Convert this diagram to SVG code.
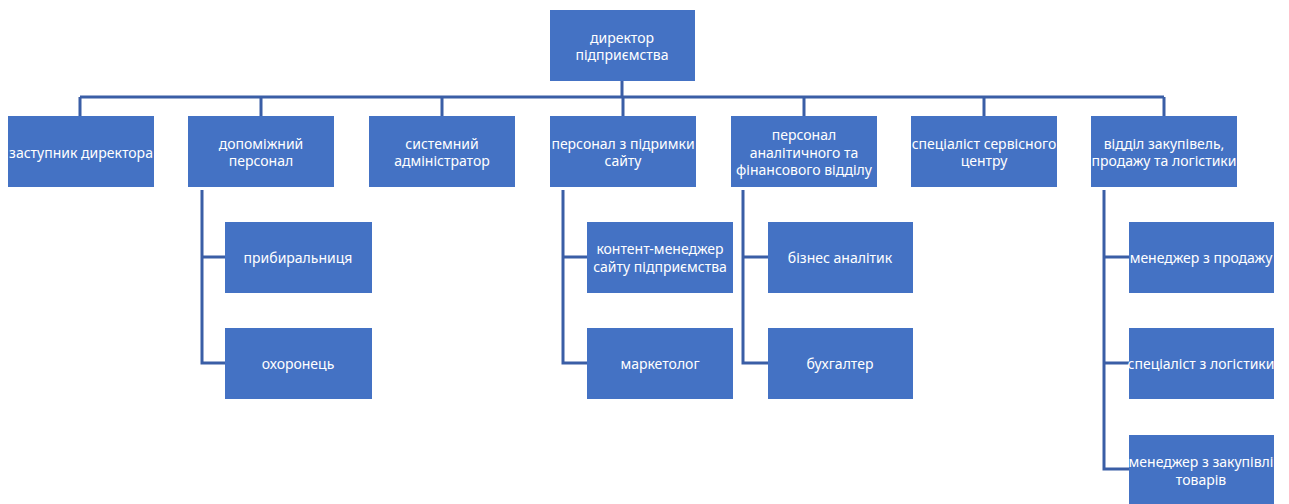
<svg xmlns="http://www.w3.org/2000/svg" width="1289" height="504" viewBox="0 0 1289 504">
<style>
.b{fill:#4472C4}
.t{fill:#fff;font-family:"Noto Sans","Liberation Sans",sans-serif;font-size:14px;text-anchor:middle;dominant-baseline:central}
.c{stroke:#3A5EA6;stroke-width:3;fill:none}
</style>
<rect width="1289" height="504" fill="#fff"/>
<g id="connectors">
<path class="c" d="M622 81V97M80 97H1164M80 97V116M261 97V116M442 97V116M623 97V116M804 97V116M984 97V116M1164 97V116"/>
<path class="c" d="M202 190V363H225M202 257H225"/>
<path class="c" d="M563 190V363H587M563 257H587"/>
<path class="c" d="M743 190V363H768M743 257H768"/>
<path class="c" d="M1104 190V469H1129M1104 257H1129M1104 363H1129"/>
</g>
<g id="director"><rect class="b" x="550" y="10" width="145" height="71"/><text class="t" x="622" y="37">директор</text><text class="t" x="622" y="54">підприємства</text></g>
<g id="deputy"><rect class="b" x="8" y="116" width="146" height="71"/><text class="t" x="81" y="152">заступник директора</text></g>
<g id="support"><rect class="b" x="188" y="116" width="146" height="71"/><text class="t" x="261" y="143">допоміжний</text><text class="t" x="261" y="160">персонал</text></g>
<g id="sysadmin"><rect class="b" x="369" y="116" width="146" height="71"/><text class="t" x="442" y="143">системний</text><text class="t" x="442" y="160">адміністратор</text></g>
<g id="site"><rect class="b" x="550" y="116" width="146" height="71"/><text class="t" x="623" y="143">персонал з підримки</text><text class="t" x="623" y="160">сайту</text></g>
<g id="analytics"><rect class="b" x="731" y="116" width="146" height="71"/><text class="t" x="804" y="134">персонал</text><text class="t" x="804" y="152">аналітичного та</text><text class="t" x="804" y="169">фінансового відділу</text></g>
<g id="service"><rect class="b" x="911" y="116" width="146" height="71"/><text class="t" x="984" y="143">спеціаліст сервісного</text><text class="t" x="984" y="160">центру</text></g>
<g id="purchase"><rect class="b" x="1091" y="116" width="146" height="71"/><text class="t" x="1164" y="143">відділ закупівель,</text><text class="t" x="1164" y="160">продажу та логістики</text></g>
<g id="cleaner"><rect class="b" x="225" y="222" width="147" height="71"/><text class="t" x="298" y="257">прибиральниця</text></g>
<g id="guard"><rect class="b" x="225" y="328" width="147" height="71"/><text class="t" x="298" y="363">охоронець</text></g>
<g id="content"><rect class="b" x="587" y="222" width="146" height="71"/><text class="t" x="660" y="248">контент-менеджер</text><text class="t" x="660" y="266">сайту підприємства</text></g>
<g id="marketer"><rect class="b" x="587" y="328" width="146" height="71"/><text class="t" x="660" y="363">маркетолог</text></g>
<g id="analyst"><rect class="b" x="768" y="222" width="145" height="71"/><text class="t" x="840" y="257">бізнес аналітик</text></g>
<g id="accountant"><rect class="b" x="768" y="328" width="145" height="71"/><text class="t" x="840" y="363">бухгалтер</text></g>
<g id="sales"><rect class="b" x="1129" y="222" width="145" height="71"/><text class="t" x="1201" y="257">менеджер з продажу</text></g>
<g id="logistics"><rect class="b" x="1129" y="328" width="145" height="71"/><text class="t" x="1201" y="363">спеціаліст з логістики</text></g>
<g id="buyer"><rect class="b" x="1129" y="435" width="145" height="71"/><text class="t" x="1201" y="461">менеджер з закупівлі</text><text class="t" x="1201" y="479">товарів</text></g>
</svg>
